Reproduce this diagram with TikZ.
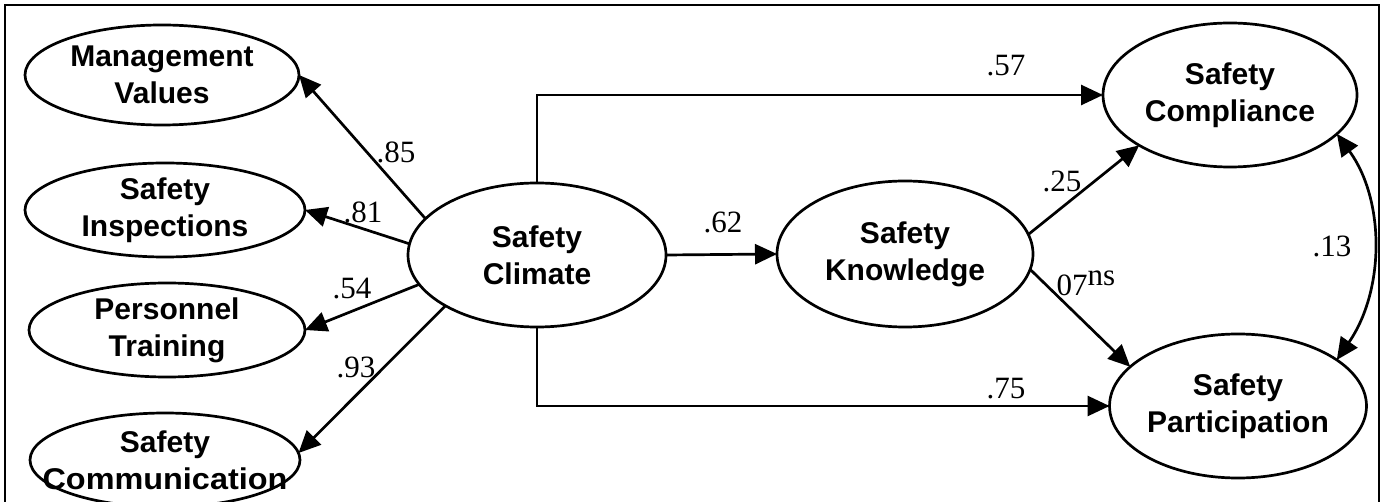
\documentclass[tikz,border=0pt]{standalone}
\usepackage{fontspec}
\setmainfont{Liberation Serif}
\newfontfamily\labfont{Liberation Sans}
\usetikzlibrary{arrows.meta,shapes.geometric}
\begin{document}
\begin{tikzpicture}[x=1pt,y=-1pt,
  lat/.style={ellipse, draw, line width=2.7pt, inner sep=0pt, outer sep=0pt, align=center,
    font=\labfont\bfseries\fontsize{30}{37}\selectfont},
  arr/.style={line width=2.7pt, -{Triangle[length=22pt,width=20pt]}},
  biarr/.style={line width=2.7pt, {Triangle[length=22pt,width=20pt]}-{Triangle[length=22pt,width=20pt]}},
  coef/.style={font=\fontsize{31}{32}\selectfont, inner sep=0pt},
  frame/.style={line width=2.7pt}]
\useasboundingbox (0,0) rectangle (1383,502);
\draw[frame] (5,510) -- (5,5) -- (1379,5) -- (1379,510);

% latent variables
\node[lat, minimum width=274pt, minimum height=100pt] (mv) at (162,75) {Management\\Values};
\node[lat, minimum width=280pt, minimum height=94pt] (si) at (165,210) {Safety\\Inspections};
\node[lat, minimum width=276pt, minimum height=94pt] (pt) at (167,330) {Personnel\\Training};
\node[lat, minimum width=270pt, minimum height=94pt] (scom) at (165,460)
  {\makebox[0pt]{Safety}\\\makebox[0pt]{\scalebox{1.08}[1]{Communication}}};
\node[lat, minimum width=258pt, minimum height=144pt] (clim) at (537,255) {Safety\\Climate};
\node[lat, minimum width=256pt, minimum height=146pt] (sk) at (905,254) {Safety\\Knowledge};
\node[lat, minimum width=254pt, minimum height=144pt] (comp) at (1230,95) {Safety\\Compliance};
\node[lat, minimum width=256pt, minimum height=144pt] (part) at (1238,406) {Safety\\Participation};

% paths
\draw[arr] (clim.162.6) -- (mv.east);
\draw[arr] (clim.175.5) -- (si.east);
\draw[arr] (clim.194.7) -- (pt.east);
\draw[arr] (clim.209) -- (scom.3);
\draw[arr] (clim.north) |- (comp.west);
\draw[arr] (clim.south) |- (part.west);
\draw[arr] (clim.east) -- (sk.west);
\draw[arr] (sk.9.2) -- (comp.209.6);
\draw[arr] (sk.-7.9) -- (part.160.5);
\draw[biarr] (comp.-20) .. controls (1385,200) and (1385,290) .. (part.25);

% coefficients
\node[coef] (l85) at (396,152) {.85};
\node[coef] (l81) at (363,212) {.81};
\node[coef] (l54) at (352,289) {.54};
\node[coef] (l93) at (356,367) {.93};
\node[coef] (l62) at (723,222) {.62};
\node[coef] (l57) at (1006,66) {.57};
\node[coef] (l75) at (1006,389) {.75};
\node[coef] (l25) at (1062,181) {.25};
\node[coef] (l07) at (1086,283) {07\raisebox{10pt}{ns}};
\node[coef] (l13) at (1332,246) {.13};
\end{tikzpicture}
\end{document}
